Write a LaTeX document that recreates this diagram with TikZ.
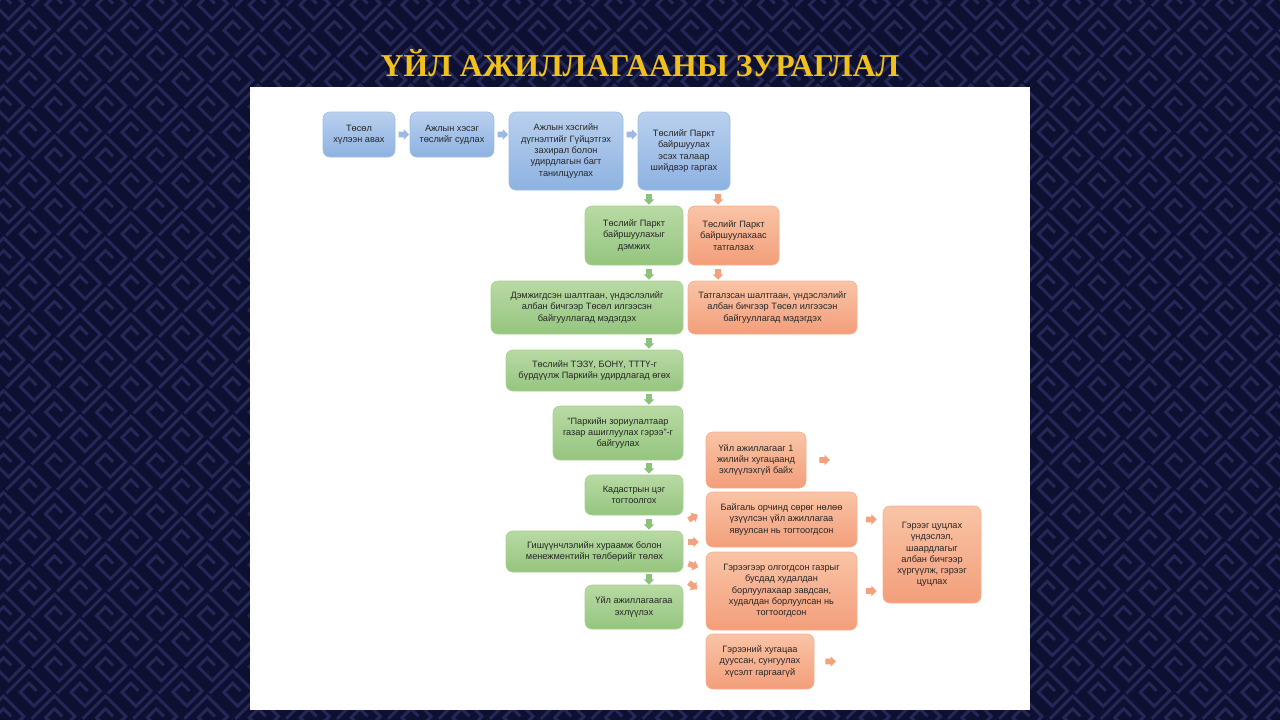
\documentclass[tikz,border=0pt]{standalone}
\usepackage{fontspec}
\setmainfont{Liberation Sans}
\newfontfamily\titlefont{Liberation Serif}
\usetikzlibrary{shapes.arrows,calc}
\definecolor{bgnavy}{HTML}{0D1030}
\definecolor{patline}{HTML}{242856}
\definecolor{titlegold}{HTML}{F2C01C}
\definecolor{txt}{HTML}{262626}
\definecolor{bluetop}{HTML}{B9D0EE}
\definecolor{bluebot}{HTML}{8DB2E1}
\definecolor{blueline}{HTML}{9DBCE6}
\definecolor{greentop}{HTML}{B8DAA4}
\definecolor{greenbot}{HTML}{95C57F}
\definecolor{greenline}{HTML}{A6D08F}
\definecolor{orangetop}{HTML}{F9C4A6}
\definecolor{orangebot}{HTML}{F39E7A}
\definecolor{orangeline}{HTML}{F5B08E}
\definecolor{arrblue}{HTML}{9BB9E2}
\definecolor{arrgreen}{HTML}{8EC27A}
\definecolor{arrorange}{HTML}{F3A27E}
\newcommand\mybox[7]{%
  \pgfmathsetmacro\bw{#4-#2}\pgfmathsetmacro\bh{#5-#3}%
  \node[boxbase,#6,minimum width=\bw pt,minimum height=\bh pt] (#1) at ({(#2+#4)/2},{(#3+#5)/2}) {#7};}
\tikzset{
  boxbase/.style={rounded corners=7pt, align=center, inner sep=0pt, text=txt,
    font=\fontsize{9.2}{11.3}\selectfont, line width=0.6pt},
  bluebox/.style={top color=bluetop, bottom color=bluebot, draw=blueline},
  greenbox/.style={top color=greentop, bottom color=greenbot, draw=greenline},
  orangebox/.style={top color=orangetop, bottom color=orangebot, draw=orangeline},
  barrow/.style={shape=single arrow, draw=none, inner xsep=0pt, inner ysep=2.6pt, minimum height=10.5pt,
    minimum width=10.5pt, single arrow head extend=2.6pt, single arrow head indent=0pt},
  pat/.style={draw=patline, line width=3pt}
}
\begin{document}
\begin{tikzpicture}[x=1pt,y=-1pt]
\useasboundingbox (0,0) rectangle (1280,720);
\fill[bgnavy] (0,0) rectangle (1280,720);
\begin{scope}
\clip (0,0) rectangle (1280,720);
\begin{scope}[shift={(640,360)}, rotate=45]
\foreach \i in {-21,...,21}{
 \foreach \j in {-21,...,21}{
  \draw[pat] ({\i*36},{\j*36+3.6}) -- ++(32.4,0) -- ++(0,28.8) -- ++(-21.6,0) -- ++(0,-19.8) -- ++(12.6,0) -- ++(0,10.8);
 }}
\end{scope}
\end{scope}
% white panel
\fill[white] (250,87) rectangle (1030,710);
% title
\node[font=\titlefont\bfseries\fontsize{31.8}{34}\selectfont, text=titlegold] (title) at (640,63) {ҮЙЛ АЖИЛЛАГААНЫ ЗУРАГЛАЛ};
% blue row
\mybox{b1}{323}{112}{395}{157}{bluebox}{Төсөл\\хүлээн авах}
\mybox{b2}{410}{112}{494}{157}{bluebox}{Ажлын хэсэг\\төслийг судлах}
\mybox{b3}{509}{112}{623}{190}{bluebox}{Ажлын хэсгийн\\дүгнэлтийг Гүйцэтгэх\\захирал болон\\удирдлагын багт\\танилцуулах}
\mybox{b4}{638}{112}{730}{190}{bluebox}{Төслийг Паркт\\байршуулах\\эсэх талаар\\шийдвэр гаргах}
% green column
\mybox{g5}{585}{206}{683}{265}{greenbox}{Төслийг Паркт\\байршуулахыг\\дэмжих}
\mybox{o6}{688}{206}{779}{265}{orangebox}{Төслийг Паркт\\байршуулахаас\\татгалзах}
\mybox{g7}{491}{281}{683}{334}{greenbox}{Дэмжигдсэн шалтгаан, үндэслэлийг\\албан бичгээр Төсөл илгээсэн\\байгууллагад мэдэгдэх}
\mybox{o8}{688}{281}{857}{334}{orangebox}{Татгалзсан шалтгаан, үндэслэлийг\\албан бичгээр Төсөл илгээсэн\\байгууллагад мэдэгдэх}
\mybox{g9}{506}{350}{683}{391}{greenbox}{Төслийн ТЭЗҮ, БОНҮ, ТТТҮ-г\\бүрдүүлж Паркийн удирдлагад өгөх}
\mybox{g10}{553}{406}{683}{460}{greenbox}{"Паркийн зориулалтаар\\газар ашиглуулах гэрээ"-г\\байгуулах}
\mybox{g11}{585}{475}{683}{515}{greenbox}{Кадастрын цэг\\тогтоолгох}
\mybox{g12}{506}{531}{683}{572}{greenbox}{Гишүүнчлэлийн хураамж болон\\менежментийн төлбөрийг төлөх}
\mybox{g13}{585}{585}{683}{629}{greenbox}{Үйл ажиллагаагаа\\эхлүүлэх}
% orange termination column
\mybox{o14}{706}{432}{806}{488}{orangebox}{Үйл ажиллагааг 1\\жилийн хугацаанд\\эхлүүлэхгүй байх}
\mybox{o15}{706}{492}{857}{547}{orangebox}{Байгаль орчинд сөрөг нөлөө\\үзүүлсэн үйл ажиллагаа\\явуулсан нь тогтоогдсон}
\mybox{o16}{706}{552}{857}{630}{orangebox}{Гэрээгээр олгогдсон газрыг\\бусдад худалдан\\борлуулахаар завдсан,\\худалдан борлуулсан нь\\тогтоогдсон}
\mybox{o17}{706}{634}{814}{689}{orangebox}{Гэрээний хугацаа\\дууссан, сунгуулах\\хүсэлт гаргаагүй}
\mybox{o18}{883}{506}{981}{603}{orangebox}{Гэрээг цуцлах\\үндэслэл,\\шаардлагыг\\албан бичгээр\\хүргүүлж, гэрээг\\цуцлах}
% blue arrows
\node[barrow, fill=arrblue] (a1) at ($(b1.east)!0.5!(b2.west)$) {};
\node[barrow, fill=arrblue] (a2) at ($(b2.east)!0.5!(b2.east -| b3.west)$) {};
\node[barrow, fill=arrblue] (a3) at ($(b2.east -| b3.east)!0.5!(b2.east -| b4.west)$) {};
% green down arrows
\foreach \yy [count=\k] in {198,273,342,398,467,523,578}{
  \node[barrow, fill=arrgreen, rotate=-90] (ga\k) at (649,\yy) {};
}
% orange down arrows
\node[barrow, fill=arrorange, rotate=-90] (oa1) at (718,198) {};
\node[barrow, fill=arrorange, rotate=-90] (oa2) at (718,273) {};
% small orange arrows toward termination boxes
\node[barrow, fill=arrorange, rotate=30] (ta1) at (692,518) {};
\node[barrow, fill=arrorange] (ta2) at (692,542) {};
\node[barrow, fill=arrorange, rotate=-20] (ta3) at (692,565) {};
\node[barrow, fill=arrorange, rotate=-40] (ta4) at (692,585) {};
% arrows towards cancellation
\node[barrow, fill=arrorange] (ra1) at ($(o14.east)+(17,0)$) {};
\node[barrow, fill=arrorange] (ra2) at ($(o15.east)!0.5!(o15.east -| o18.west)$) {};
\node[barrow, fill=arrorange] (ra3) at ($(o16.east)!0.5!(o16.east -| o18.west)$) {};
\node[barrow, fill=arrorange] (ra4) at ($(o17.east)+(15,0)$) {};
\end{tikzpicture}
\end{document}
